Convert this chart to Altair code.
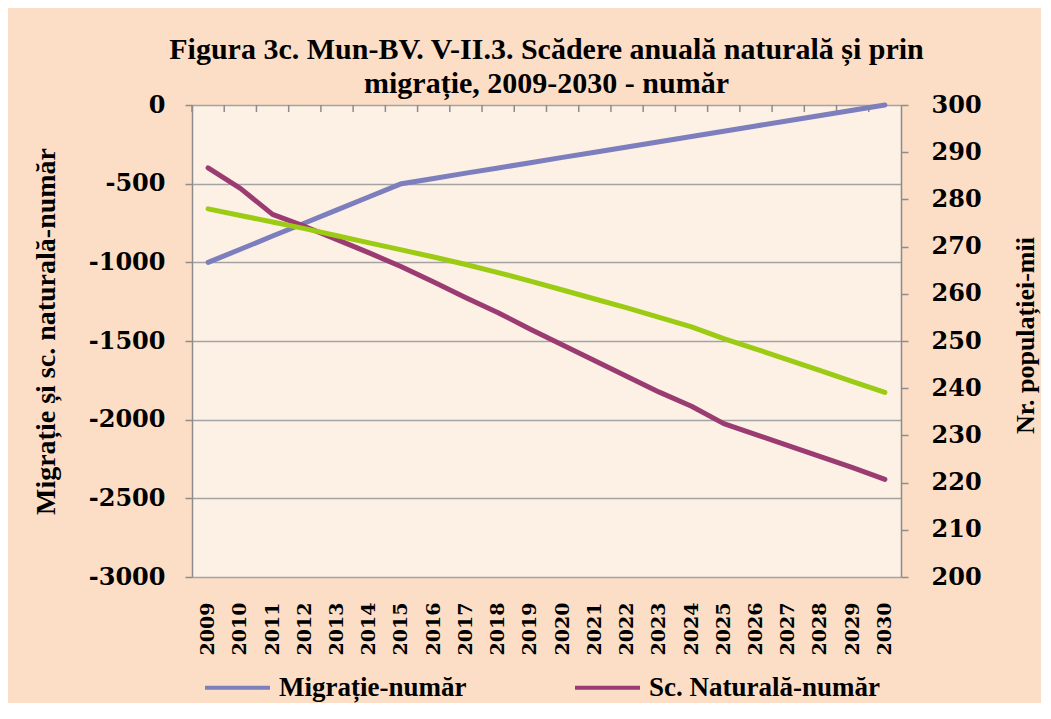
import altair as alt
import pandas as pd

years = ["2009", "2010", "2011", "2012", "2013", "2014", "2015", "2016", "2017", "2018", "2019",
         "2020", "2021", "2022", "2023", "2024", "2025", "2026", "2027", "2028", "2029", "2030"]
migratie = [-1000, -917, -833, -750, -667, -583, -500, -467, -433, -400, -367,
            -333, -300, -267, -233, -200, -167, -133, -100, -67, -33, 0]
naturala = [-400, -530, -695, -772, -856, -940, -1028, -1125, -1225, -1320, -1425,
            -1525, -1625, -1725, -1825, -1915, -2025, -2095, -2165, -2235, -2305, -2380]
populatie = [278.0, 276.6, 275.2, 273.8, 272.3, 270.8, 269.3, 267.8, 266.2, 264.5, 262.7,
             260.8, 258.9, 257.0, 255.0, 253.0, 250.5, 248.3, 246.0, 243.7, 241.4, 239.1]

series_names = ["Migrație-număr", "Sc. Naturală-număr"]
series_colors = ["#7C7EBE", "#9A3C72"]
green = "#9BCB12"
grid_gray = "#A3A3A3"
axis_gray = "#8C8C8C"

left_df = pd.DataFrame({
    "year": years * 2,
    "value": migratie + naturala,
    "series": [series_names[0]] * len(years) + [series_names[1]] * len(years),
})
pop_df = pd.DataFrame({"year": years, "pop": populatie})
tick_df = pd.DataFrame({"year": years})

xscale = alt.Scale(type="band", paddingInner=0, paddingOuter=0)
xaxis = alt.Axis(orient="bottom", title=None, labelAngle=270, ticks=False, domain=False,
                 grid=False, labelPadding=25, labelFont="DejaVu Serif", labelFontSize=19,
                 labelFontWeight="bold", labelColor="black")

top_ticks = alt.Chart(tick_df).mark_rule(color=axis_gray, strokeWidth=1.5).encode(
    x=alt.X("year:O", sort=years, scale=xscale, axis=xaxis, bandPosition=0),
    y=alt.value(0),
    y2=alt.value(7),
)

left_lines = alt.Chart(left_df).mark_line(strokeWidth=5, strokeCap="round", strokeJoin="round").encode(
    x=alt.X("year:O", sort=years, scale=xscale, axis=xaxis, bandPosition=0.5),
    y=alt.Y("value:Q",
            scale=alt.Scale(domain=[-3000, 0], nice=False, zero=False),
            axis=alt.Axis(orient="left", values=list(range(-3000, 1, 500)),
                          title="Migrație și sc. naturală-număr",
                          titleFont="Liberation Serif", titleFontSize=28, titleFontWeight="bold",
                          titleColor="black", titleAngle=270, titleX=-146, titleY=226,
                          titleAlign="center", titleBaseline="middle",
                          labelExpr="datum.value + ''",
                          labelFont="DejaVu Serif", labelFontSize=24, labelFontWeight="bold",
                          labelColor="black", labelPadding=20,
                          tickSize=7, tickColor=axis_gray, tickWidth=1.5,
                          domainColor=axis_gray, domainWidth=1.5,
                          grid=True, gridColor=grid_gray, gridWidth=1.5)),
    color=alt.Color("series:N",
                    scale=alt.Scale(domain=series_names, range=series_colors),
                    legend=alt.Legend(orient="none", legendX=11, legendY=548,
                                      direction="horizontal", title=None,
                                      symbolType="stroke", symbolSize=4225,
                                      symbolStrokeWidth=4, labelFont="Liberation Serif",
                                      labelFontSize=27, labelFontWeight="bold",
                                      labelColor="black", labelOffset=7,
                                      labelBaseline="middle", labelLimit=500,
                                      columnPadding=100)),
)

green_line = alt.Chart(pop_df).mark_line(strokeWidth=5, strokeCap="round", strokeJoin="round",
                                         color=green).encode(
    x=alt.X("year:O", sort=years, scale=xscale, axis=xaxis, bandPosition=0.5),
    y=alt.Y("pop:Q",
            scale=alt.Scale(domain=[200, 300], nice=False, zero=False),
            axis=alt.Axis(orient="right", values=list(range(200, 301, 10)),
                          title="Nr. populației-mii",
                          titleFont="Liberation Serif", titleFontSize=26, titleFontWeight="bold",
                          titleColor="black", titleAngle=270, titleX=124, titleY=230,
                          titleAlign="center", titleBaseline="middle",
                          labelFont="DejaVu Serif", labelFontSize=24, labelFontWeight="bold",
                          labelColor="black", labelPadding=23,
                          tickSize=7, tickColor=axis_gray, tickWidth=1.5,
                          domainColor=axis_gray, domainWidth=1.5,
                          grid=False)),
)

chart = alt.layer(top_ticks, left_lines, green_line).resolve_scale(y="independent").properties(
    width=709,
    height=472,
    title=alt.TitleParams(
        text=["Figura  3c. Mun-BV. V-II.3. Scădere anuală naturală și prin",
              "migrație, 2009-2030 - număr"],
        font="Liberation Serif", fontSize=30, fontWeight="bold", color="black",
        anchor="middle", offset=-6, lineHeight=34),
    background="#FCDEC6",
    autosize=alt.AutoSizeParams(type="none"),
    padding={"left": 184, "top": 97, "right": 140, "bottom": 126},
).configure_view(fill="#FDF0E4", strokeWidth=0)

chart.save("out.html", embed_options={"renderer": "svg", "actions": False})
